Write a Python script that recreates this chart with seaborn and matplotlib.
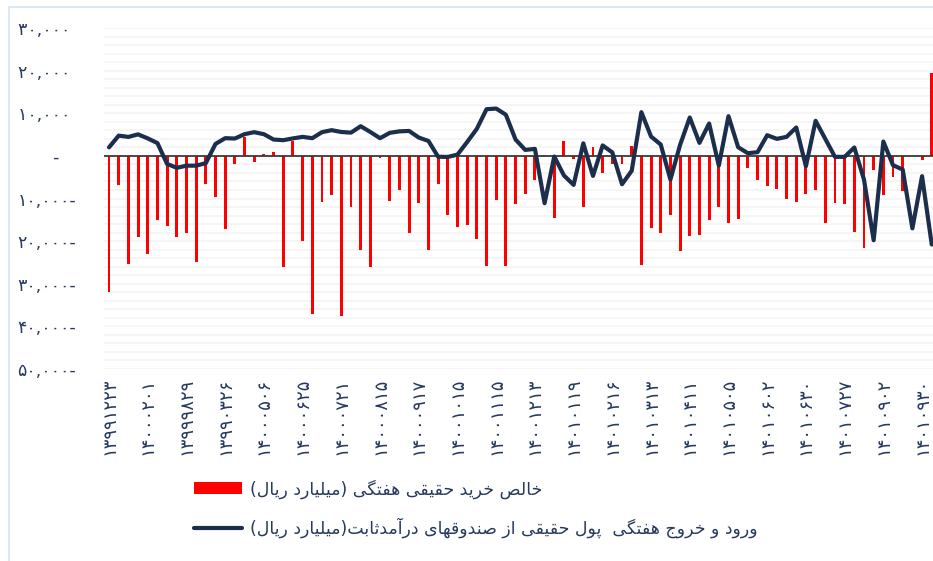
import pandas as pd
import seaborn as sns
import matplotlib.pyplot as plt
from matplotlib.patches import Patch, Rectangle
from matplotlib.lines import Line2D
from matplotlib.ticker import MultipleLocator

# weekly values (billion rials), one per week
net_purchase = [-32000, -6900, -25400, -19100, -23000, -15100, -16350, -19100, -18100, -24900,
                -6700, -9700, -17200, -1950, 4450, -1400, 470, 940, -26000, 3600,
                -20000, -37000, -10900, -9150, -37600, -12000, -22000, -26000, -470, -10700,
                -8050, -18100, -11000, -22050, -6500, -13900, -16700, -16300, -19500, -25900,
                -10300, -25800, -11400, -9000, -5700, 250, -14600, 3600, -700, -12000,
                2100, -4070, -1900, -1800, 2200, -25700, -17000, -18100, -13900, -22400,
                -18900, -18500, -15000, -12050, -15800, -14700, -2800, -5600, -7100, -7800,
                -10000, -10900, -8900, -8100, -15700, -11100, -11200, -17900, -21700, -3300,
                -9150, -5000, -8200, -100, -940, 19500]

fund_flow = [2000, 4750, 4450, 5050, 4100, 3000, -1900, -2800, -2300, -2300,
             -1700, 2800, 4150, 4070, 5090, 5560, 5090, 3830, 3680, 4100,
             4460, 4150, 5560, 6030, 5600, 5450, 6960, 5600, 4150, 5400,
             5750, 5850, 4300, 3500, -200, -250, 300, 3250, 6340, 10950,
             11100, 9650, 3830, 1400, 1640, -11100, -150, -4600, -6800, 2950,
             -4700, 2450, 800, -6650, -3500, 10250, 4540, 2660, -5560, 2580,
             9000, 3050, 7590, -2270, 9310, 2030, 630, 860, 4850, 3990,
             4460, 6650, -2430, 8220, 3990, -230, -230, 1960, -5560, -19800,
             3360, -2190, -3210, -17000, -4770, -20800]

# date labels shown every 4th week
date_labels = ['۱۳۹۹۱۲۲۳', '۱۴۰۰۰۲۰۱', '۱۳۹۹۹۸۲۹', '۱۳۹۹۰۳۲۶', '۱۴۰۰۰۵۰۶', '۱۴۰۰۰۶۲۵',
               '۱۴۰۰۰۷۲۱', '۱۴۰۰۰۸۱۵', '۱۴۰۰۰۹۱۷', '۱۴۰۰۱۰۱۵', '۱۴۰۰۱۱۱۵', '۱۴۰۰۱۲۱۳',
               '۱۴۰۱۰۱۱۹', '۱۴۰۱۰۲۱۶', '۱۴۰۱۰۳۱۳', '۱۴۰۱۰۴۱۱', '۱۴۰۱۰۵۰۵', '۱۴۰۱۰۶۰۲',
               '۱۴۰۱۰۶۳۰', '۱۴۰۱۰۷۲۷', '۱۴۰۱۰۹۰۲', '۱۴۰۱۰۹۳۰']

y_ticks = [30000, 20000, 10000, 0, -10000, -20000, -30000, -40000, -50000]
y_labels = ['۳۰,۰۰۰ ', '۲۰,۰۰۰ ', '۱۰,۰۰۰ ', '-   ', '۱۰,۰۰۰-', '۲۰,۰۰۰-',
            '۳۰,۰۰۰-', '۴۰,۰۰۰-', '۵۰,۰۰۰-']

bar_label = 'خالص خرید حقیقی هفتگی (میلیارد ریال)'
line_label = 'ورود و خروج هفتگی  پول حقیقی از صندوقهای درآمدثابت(میلیارد ریال)'

# matplotlib has no arabic shaping, so pick presentation forms by hand
DUAL = {'ب': 0xFE8F, 'ت': 0xFE95, 'ث': 0xFE99, 'ج': 0xFE9D, 'ح': 0xFEA1, 'خ': 0xFEA5,
        'س': 0xFEB1, 'ش': 0xFEB5, 'ص': 0xFEB9, 'ض': 0xFEBD, 'ط': 0xFEC1, 'ظ': 0xFEC5,
        'ع': 0xFEC9, 'غ': 0xFECD, 'ف': 0xFED1, 'ق': 0xFED5, 'ل': 0xFEDD, 'م': 0xFEE1,
        'ن': 0xFEE5, 'ه': 0xFEE9, 'پ': 0xFB56, 'چ': 0xFB7A, 'ک': 0xFB8E, 'گ': 0xFB92,
        'ی': 0xFBFC}
RIGHT = {'ا': 0xFE8D, 'آ': 0xFE81, 'د': 0xFEA9, 'ذ': 0xFEAB, 'ر': 0xFEAD, 'ز': 0xFEAF,
         'و': 0xFEED, 'ژ': 0xFB8A}


def shape(s):
    out = []
    for i, c in enumerate(s):
        prev = s[i - 1] if i > 0 else ''
        nxt = s[i + 1] if i + 1 < len(s) else ''
        joins_prev = prev in DUAL
        if c in DUAL:
            joins_next = nxt in DUAL or nxt in RIGHT
            out.append(chr(DUAL[c] + [0, 1, 2, 3][joins_prev + 2 * joins_next]))
        elif c in RIGHT:
            out.append(chr(RIGHT[c] + (1 if joins_prev else 0)))
        else:
            out.append(c)
    # right to left -> reverse and mirror brackets
    return ''.join(out[::-1]).translate(str.maketrans('()', ')('))


df = pd.DataFrame({'week': range(len(net_purchase)),
                   'net': net_purchase,
                   'flow': fund_flow})

sns.set_theme(style='white')
plt.rcParams['font.family'] = ['DejaVu Sans']

text_color = '#263a5e'
line_color = '#1b2e4b'

fig = plt.figure(figsize=(9.33, 5.61), dpi=100)
ax = fig.add_axes([104 / 933, 1 - 369 / 561, 829 / 933, 341 / 561])

sns.barplot(data=df, x='week', y='net', color='#ff0000', saturation=1, width=0.3,
            linewidth=0, ax=ax, zorder=2)
ax.axhline(0, color='#3a3a3a', lw=1.3, zorder=3)
sns.lineplot(data=df, x='week', y='flow', color=line_color, lw=3, ax=ax, zorder=4)

ax.set_xlim(-0.52, 85.13)
ax.set_ylim(-50000, 30000)

# faint horizontal grid
ax.yaxis.set_minor_locator(MultipleLocator(2000))
ax.grid(axis='y', which='both', color='#f4f4f4', lw=1.2, zorder=0)
ax.set_axisbelow(True)

ax.set_xticks(range(0, len(net_purchase), 4))
ax.set_xticklabels(date_labels, rotation=90, color=text_color, fontsize=13)
ax.set_yticks(y_ticks)
ax.set_yticklabels(y_labels, color=text_color, fontsize=12.5)
ax.tick_params(axis='x', length=0, pad=6)
ax.tick_params(axis='y', which='both', length=0, pad=20)
ax.set_xlabel('')
ax.set_ylabel('')
sns.despine(ax=ax, left=True, bottom=True)

# legend below the chart
handles = [Patch(facecolor='#ff0000', edgecolor='none'),
           Line2D([0], [0], color=line_color, lw=3)]
leg = fig.legend(handles, [shape(bar_label), shape(line_label)],
                 loc='upper left', bbox_to_anchor=(194 / 933, 1 - 479 / 561),
                 frameon=False, fontsize=12.5, handlelength=2.75, handleheight=0.75,
                 handletextpad=0.45, labelspacing=1.1, borderpad=0, borderaxespad=0)
for t in leg.get_texts():
    t.set_color(text_color)

# thin light frame around the picture
fig.add_artist(Rectangle((9 / 933, -0.05), 1.2, 1.05 - 7 / 561, transform=fig.transFigure,
                         fill=False, edgecolor='#dce8f6', lw=1.5))

fig.savefig('out.png', dpi=100)
